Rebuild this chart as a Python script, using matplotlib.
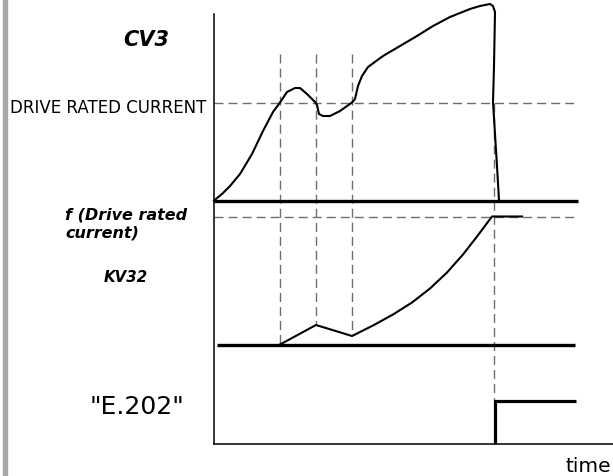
import numpy as np
import matplotlib.pyplot as plt

# Échelle de temps commune (unités arbitraires), niveaux relatifs à chaque ligne de base
t_cv3 = [0, 8, 16, 26, 38, 49, 59, 66, 73, 81, 86, 93, 101, 103, 105, 109, 116, 126,
         138, 141, 144, 148, 154, 169, 186, 203, 219, 236, 256, 266, 276, 279, 281,
         280, 279, 283, 285]
cv3 = [0, 6.5, 14.5, 26.5, 46.5, 69.5, 88.5, 98, 108.5, 112.5, 112.5, 106.5, 98.5, 95.5,
       86.5, 84.5, 84.5, 89.5, 98, 101.5, 114.5, 124.5, 133.5, 144.5, 154.5, 164.5,
       174.5, 183.5, 191.5, 194.5, 196.5, 194.5, 188.5, 134.5, 98.5, 34.5, 0]

t_kv32 = [66, 102, 138, 159, 179, 198, 216, 233, 249, 263, 278, 308]
kv32 = [0, 19.5, 8.5, 19, 30, 42, 56, 72, 90, 108, 128, 128]

t_e202 = [281, 281, 362]
e202 = [0, 43, 43]

events = [66, 102, 138, 280]     # instants de franchissement
rated = 98                       # DRIVE RATED CURRENT
kv32_lim = 128                   # f (Drive rated current)

base_cv3 = 243.5
base_kv32 = 99.5
cv3_span = [0, 364]
kv32_span = [3, 361]

W, H = 613, 477
fig = plt.figure(figsize=(W / 100, H / 100), dpi=100)
fig.patches.append(plt.Rectangle((3 / W, 0), 4 / W, 1, transform=fig.transFigure,
                                 color='#a8a8a8', zorder=0))

ax = fig.add_axes([214 / W, (H - 445) / H, (W - 214) / W, 430 / H])
ax.set_xlim(0, 399)
ax.set_ylim(0, 430)
for s in ['top', 'right']:
    ax.spines[s].set_visible(False)
for s in ['left', 'bottom']:
    ax.spines[s].set_linewidth(1.1)
ax.set_xticks([])
ax.set_yticks([])

dash = dict(color='#6e6e6e', lw=1.0, dashes=(6.5, 3.6), zorder=1)

# niveaux de référence
ax.plot([0, 363], [base_cv3 + rated] * 2, **dash)
ax.plot([0, 362], [base_kv32 + kv32_lim] * 2, **dash)

# verticales des instants
for t in events[:3]:
    y_end = base_kv32 + np.interp(t, t_kv32, kv32)
    ax.plot([t, t], [390, y_end], **dash)
ax.plot([events[3]] * 2, [base_cv3 + rated, e202[1]], **dash)

# lignes de base
ax.plot(cv3_span, [base_cv3] * 2, color='black', lw=2.4, solid_capstyle='butt', zorder=2)
ax.plot(kv32_span, [base_kv32] * 2, color='black', lw=2.4, solid_capstyle='butt', zorder=2)

# signaux
ax.plot(t_cv3, base_cv3 + np.array(cv3), color='black', lw=1.5, zorder=3,
        clip_on=False, solid_joinstyle='round')
ax.plot(t_kv32, base_kv32 + np.array(kv32), color='black', lw=1.5, zorder=3,
        clip_on=False, solid_joinstyle='round')
ax.plot(t_e202, e202, color='black', lw=2.3, solid_capstyle='butt', zorder=3,
        clip_on=False)

def fx(x):
    return x / W

def fy(y):
    return 1 - y / H

fig.text(fx(146), fy(40), 'CV3', fontsize=15, fontweight='bold', style='italic',
         ha='center', va='center')
fig.text(fx(206), fy(108), 'DRIVE RATED CURRENT', fontsize=12, ha='right', va='center')
fig.text(fx(65), fy(224), 'f (Drive rated\ncurrent)', fontsize=11.5, fontweight='bold',
         style='italic', ha='left', va='center', linespacing=1.25)
fig.text(fx(126), fy(278), 'KV32', fontsize=10.8, fontweight='bold', style='italic',
         ha='center', va='center')
fig.text(fx(137), fy(407), '"E.202"', fontsize=18, ha='center', va='center')
fig.text(fx(566), fy(467), 'time', fontsize=14.5, ha='left', va='center')

fig.savefig('out.png', dpi=100)
